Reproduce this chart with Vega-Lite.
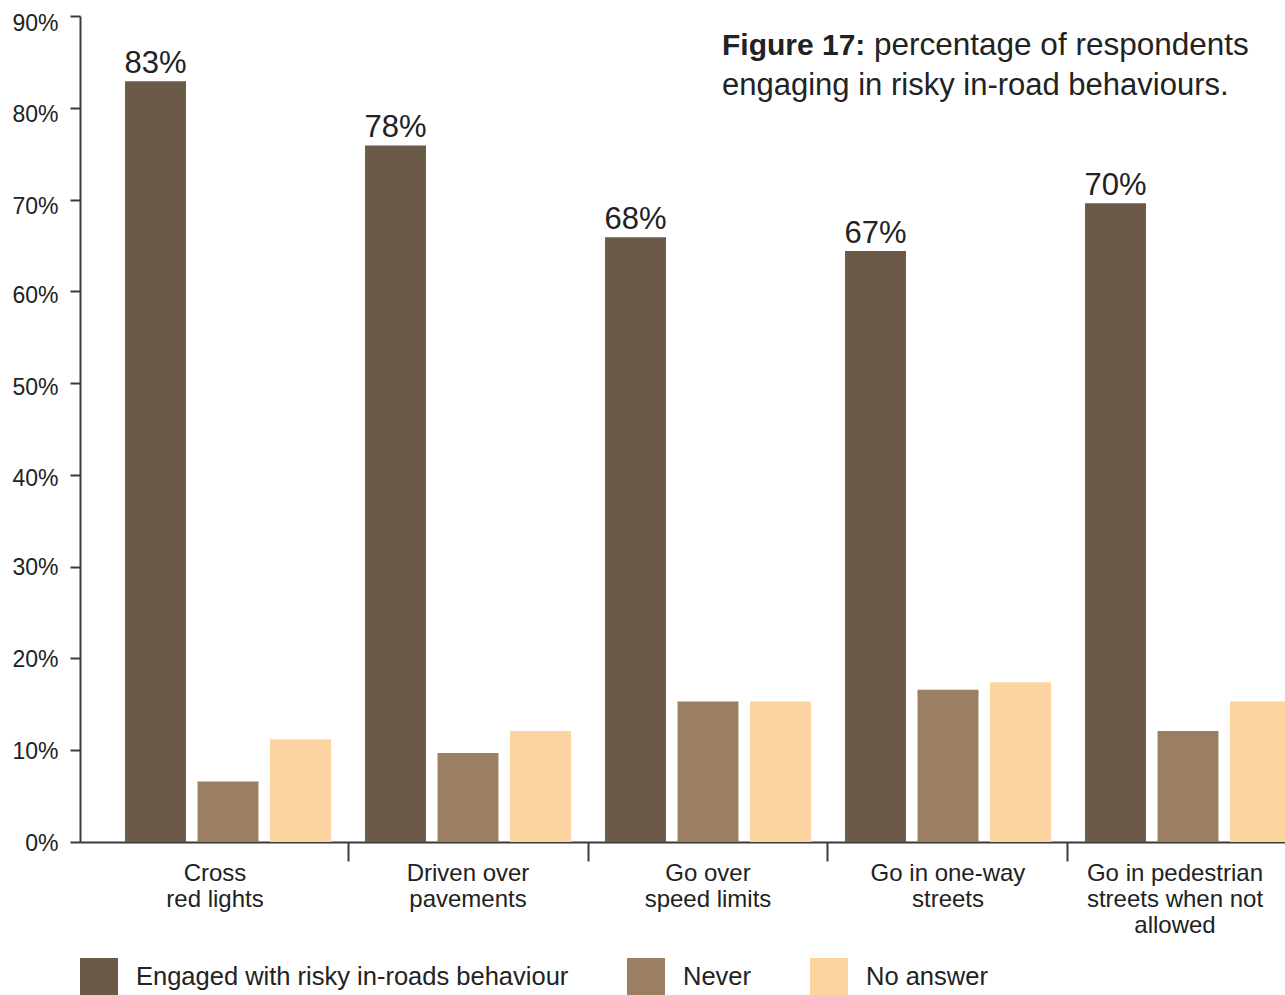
{
  "$schema": "https://vega.github.io/schema/vega-lite/v6.json",
  "width": 1205,
  "height": 826,
  "autosize": {"type": "none"},
  "padding": {"left": 80, "top": 16, "right": 0, "bottom": 153},
  "background": "white",
  "config": {
    "view": {"stroke": null},
    "font": "Liberation Sans",
    "text": {"color": "#222222"}
  },
  "data": {
    "values": [
      {"group": "Cross red lights", "series": "Engaged with risky in-roads behaviour", "value": 82.9, "label": "83%"},
      {"group": "Cross red lights", "series": "Never", "value": 6.6, "label": ""},
      {"group": "Cross red lights", "series": "No answer", "value": 11.2, "label": ""},
      {"group": "Driven over pavements", "series": "Engaged with risky in-roads behaviour", "value": 75.9, "label": "78%"},
      {"group": "Driven over pavements", "series": "Never", "value": 9.7, "label": ""},
      {"group": "Driven over pavements", "series": "No answer", "value": 12.1, "label": ""},
      {"group": "Go over speed limits", "series": "Engaged with risky in-roads behaviour", "value": 65.9, "label": "68%"},
      {"group": "Go over speed limits", "series": "Never", "value": 15.3, "label": ""},
      {"group": "Go over speed limits", "series": "No answer", "value": 15.3, "label": ""},
      {"group": "Go in one-way streets", "series": "Engaged with risky in-roads behaviour", "value": 64.4, "label": "67%"},
      {"group": "Go in one-way streets", "series": "Never", "value": 16.6, "label": ""},
      {"group": "Go in one-way streets", "series": "No answer", "value": 17.4, "label": ""},
      {"group": "Go in pedestrian streets when not allowed", "series": "Engaged with risky in-roads behaviour", "value": 69.6, "label": "70%"},
      {"group": "Go in pedestrian streets when not allowed", "series": "Never", "value": 12.1, "label": ""},
      {"group": "Go in pedestrian streets when not allowed", "series": "No answer", "value": 15.3, "label": ""}
    ]
  },
  "layer": [
    {
      "mark": {"type": "bar"},
      "encoding": {
        "x": {
          "field": "group",
          "type": "nominal",
          "sort": null,
          "scale": {"range": [0, 1256], "paddingInner": 0, "paddingOuter": 0.11667},
          "axis": {
            "title": null,
            "labelAngle": 0,
            "bandPosition": 0,
            "domainColor": "#3a3a3a",
            "domainWidth": 2,
            "tickColor": "#3a3a3a",
            "tickWidth": 2,
            "tickSize": 19,
            "tickOpacity": {"condition": {"test": "datum.value == 'Cross red lights'", "value": 0}, "value": 1},
            "labelFontSize": 24,
            "labelColor": "#222222",
            "labelPadding": 0,
            "labelBaseline": "top",
            "labelLineHeight": 26,
            "labelOffset": {"condition": {"test": "datum.value == 'Cross red lights' || datum.value == 'Go in pedestrian streets when not allowed'", "value": -13}, "value": 0},
            "labelExpr": "datum.value == 'Cross red lights' ? ['Cross', 'red lights'] : datum.value == 'Driven over pavements' ? ['Driven over', 'pavements'] : datum.value == 'Go over speed limits' ? ['Go over', 'speed limits'] : datum.value == 'Go in one-way streets' ? ['Go in one-way', 'streets'] : ['Go in pedestrian', 'streets when not', 'allowed']"
          }
        },
        "xOffset": {
          "field": "series",
          "type": "nominal",
          "sort": null,
          "scale": {"domain": ["Engaged with risky in-roads behaviour", "Never", "No answer"], "paddingInner": 0.159, "paddingOuter": 0.235}
        },
        "y": {
          "field": "value",
          "type": "quantitative",
          "scale": {"domain": [0, 90], "nice": false},
          "axis": {
            "title": null,
            "grid": false,
            "values": [0, 10, 20, 30, 40, 50, 60, 70, 80, 90],
            "labelExpr": "datum.value + '%'",
            "domainColor": "#3a3a3a",
            "domainWidth": 2,
            "tickColor": "#3a3a3a",
            "tickWidth": 2,
            "tickSize": 10,
            "labelPadding": 12,
            "labelFontSize": 23,
            "labelColor": "#222222",
            "labelOffset": {"condition": [{"test": "datum.value >= 70", "value": 7}, {"test": "datum.value >= 40", "value": 4}], "value": 1}
          }
        },
        "color": {
          "field": "series",
          "type": "nominal",
          "sort": null,
          "scale": {
            "domain": ["Engaged with risky in-roads behaviour", "Never", "No answer"],
            "range": ["#6b5a48", "#9a7f63", "#fcd49f"]
          },
          "legend": {
            "orient": "none",
            "legendX": 0,
            "legendY": 942,
            "direction": "horizontal",
            "title": null,
            "symbolType": "square",
            "symbolSize": 1444,
            "symbolStrokeWidth": 0,
            "symbolOpacity": 1,
            "labelFontSize": 25.5,
            "labelColor": "#222222",
            "labelOffset": 18,
            "columnPadding": 58,
            "labelLimit": 700,
            "padding": 0
          }
        }
      }
    },
    {
      "transform": [{"filter": "datum.label != ''"}],
      "mark": {"type": "text", "fontSize": 31, "baseline": "alphabetic", "dy": -8, "color": "#222222"},
      "encoding": {
        "x": {"field": "group", "type": "nominal", "sort": null},
        "xOffset": {"field": "series", "type": "nominal", "sort": null},
        "y": {"field": "value", "type": "quantitative"},
        "text": {"field": "label"}
      }
    },
    {
      "data": {"values": [{"t": "Figure 17:"}]},
      "mark": {"type": "text", "fontSize": 30, "fontWeight": "bold", "align": "left", "baseline": "alphabetic", "dx": 14, "dy": 39, "color": "#222222"},
      "encoding": {
        "x": {"datum": "Go over speed limits", "type": "nominal"},
        "y": {"datum": 90, "type": "quantitative"},
        "text": {"field": "t"}
      }
    },
    {
      "data": {"values": [{"t": "percentage of respondents"}]},
      "mark": {"type": "text", "fontSize": 31.5, "align": "left", "baseline": "alphabetic", "dx": 166, "dy": 39, "color": "#222222"},
      "encoding": {
        "x": {"datum": "Go over speed limits", "type": "nominal"},
        "y": {"datum": 90, "type": "quantitative"},
        "text": {"field": "t"}
      }
    },
    {
      "data": {"values": [{"t": "engaging in risky in-road behaviours."}]},
      "mark": {"type": "text", "fontSize": 31, "align": "left", "baseline": "alphabetic", "dx": 14, "dy": 79, "color": "#222222"},
      "encoding": {
        "x": {"datum": "Go over speed limits", "type": "nominal"},
        "y": {"datum": 90, "type": "quantitative"},
        "text": {"field": "t"}
      }
    }
  ]
}
